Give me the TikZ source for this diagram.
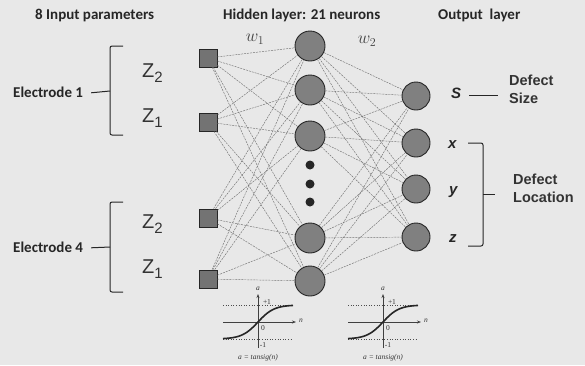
\documentclass[tikz,border=0pt]{standalone}
\usepackage{fontspec}
\setmainfont{Carlito}
\newfontfamily\arialfont{Liberation Sans}
\newfontfamily\timesfont{Liberation Serif}
\usetikzlibrary{arrows.meta}
\tikzset{
  inp/.style={draw=black!85, fill=black!55, line width=0.8pt, minimum size=18pt, inner sep=0pt},
  neuron/.style={circle, draw=black!85, fill=black!50, line width=0.9pt, minimum size=30pt, inner sep=0pt},
  outn/.style={neuron, minimum size=28pt},
  dotn/.style={circle, fill=black!85, minimum size=9pt, inner sep=0pt},
  wire/.style={black!55, line width=0.45pt, dash pattern=on 2pt off 1pt},
  head/.style={font=\fontsize{15}{15}\selectfont\bfseries, text=black!85, anchor=base west, inner sep=0pt},
  zlab/.style={font=\arialfont\fontsize{20}{20}\selectfont, text=black!80, anchor=base west, inner sep=0pt},
  olab/.style={font=\arialfont\fontsize{15}{15}\selectfont\bfseries\itshape, text=black!85, anchor=base west, inner sep=0pt},
  side/.style={font=\arialfont\fontsize{14.5}{18}\selectfont\bfseries, text=black!80, align=left, anchor=base west, inner sep=0pt},
  bracket/.style={black!85, line width=1pt, rounded corners=2pt},
  tiny/.style={font=\timesfont\fontsize{7.5}{7.5}\selectfont\itshape, text=black!80, inner sep=0pt},
  tinyup/.style={font=\timesfont\fontsize{7.5}{7.5}\selectfont, text=black!80, inner sep=0pt}
}
\begin{document}
\begin{tikzpicture}[x=1pt, y=-1pt]
  \fill[black!9] (0,0) rectangle (585,365);
  \useasboundingbox (0,0) rectangle (585,365); % keep the page size

  % titles
  \node[head] (t1) at (35,19) {8 Input parameters};
  \node[head] (t2) at (223,19) {Hidden layer: 21 neurons};
  \node[head] (t3) at (438,19) {Output\ \ layer};

  % layers
  \foreach \i/\y in {1/58,2/122,3/218,4/279}
    \node[inp] (in\i) at (208,\y) {};
  \foreach \i/\y in {1/46,2/90,3/136,4/238,5/281}
    \node[neuron] (h\i) at (310,\y) {};
  \foreach \i/\y in {1/165,2/184,3/202}
    \node[dotn] (d\i) at (310,\y) {};
  \foreach \i/\y in {1/96,2/143,3/189,4/237}
    \node[outn] (o\i) at (416,\y) {};

  \foreach \i in {1,...,4}
    \foreach \j in {1,...,5}
      \draw[wire] (in\i) -- (h\j);
  \foreach \j in {1,...,5}
    \foreach \k in {1,...,4}
      \draw[wire] (h\j) -- (o\k);

  \node[font=\fontsize{18}{18}\selectfont, text=black!75] (w1) at (255,39) {$w_1$};
  \node[font=\fontsize{18}{18}\selectfont, text=black!75] (w2) at (367,41) {$w_2$};

  % inputs
  \node[zlab] (z11) at (142,77) {Z\raisebox{-5pt}{\fontsize{15}{15}\selectfont 2}};
  \node[zlab] (z12) at (142,122) {Z\raisebox{-5pt}{\fontsize{15}{15}\selectfont 1}};
  \node[zlab] (z41) at (142,228) {Z\raisebox{-5pt}{\fontsize{15}{15}\selectfont 2}};
  \node[zlab] (z42) at (142,273) {Z\raisebox{-5pt}{\fontsize{15}{15}\selectfont 1}};

  \node[head, anchor=base west] (e1) at (13,97) {Electrode 1};
  \node[head, anchor=base west] (e4) at (13,252) {Electrode 4};
  \coordinate (b1) at (110,91);
  \coordinate (b4) at (110,247);
  \draw[bracket] (123,46) -- (110,46) -- (110,135) -- (123,135);
  \draw[bracket] (123,202) -- (110,202) -- (110,292) -- (123,292);
  \draw[black!85, line width=1pt] (e1.east) ++(8pt,-1pt) -- (b1);
  \draw[black!85, line width=1pt] (e4.east) ++(8pt,-1pt) -- (b4);

  % outputs
  \node[olab] (s) at (451,98) {S};
  \node[olab] (x) at (448,148) {x};
  \node[olab] (y) at (449,194) {y};
  \node[olab] (z) at (449,242) {z};
  \node[side] (ds) at (509,103) {Defect\\Size};
  \draw[black!85, line width=0.9pt] (s.east) ++(8pt,-3pt) -- ++(29pt,0);
  \draw[bracket] (468,143) -- (483,143) -- (483,246) -- (468,246);
  \coordinate (bl) at (483,194);
  \node[side] (dl) at (513,202) {Defect\\Location};
  \draw[black!85, line width=1pt] (bl) -- ++(12pt,0);

  % transfer functions
  \foreach \s in {258,383} {
    \begin{scope}[shift={(\s,322)}]
      \draw[black!70, dotted, line width=0.6pt] (-35,-17) -- (35,-17);
      \draw[black!70, dotted, line width=0.6pt] (-35,17) -- (35,17);
      \draw[black!75, line width=0.6pt, -{Stealth[length=4pt]}] (-35,0) -- (38,0);
      \draw[black!75, line width=0.6pt, -{Stealth[length=4pt]}] (0,26) -- (0,-28);
      \draw[black!85, line width=1.6pt] plot[domain=-35:35, samples=40, smooth] (\x,{-17*tanh(\x/16)});
      \node[tiny] (a\s) at (0,-33) {a};
      \node[tinyup] (p\s) at (9,-20) {+1};
      \node[tinyup] (zero\s) at (5,6) {0};
      \node[tinyup] (m\s) at (5,23) {-1};
      \node[tiny] (n\s) at (43,-1) {n};
      \node[tiny] (f\s) at (0,36) {a = tansig(n)};
    \end{scope}
  }
\end{tikzpicture}
\end{document}
